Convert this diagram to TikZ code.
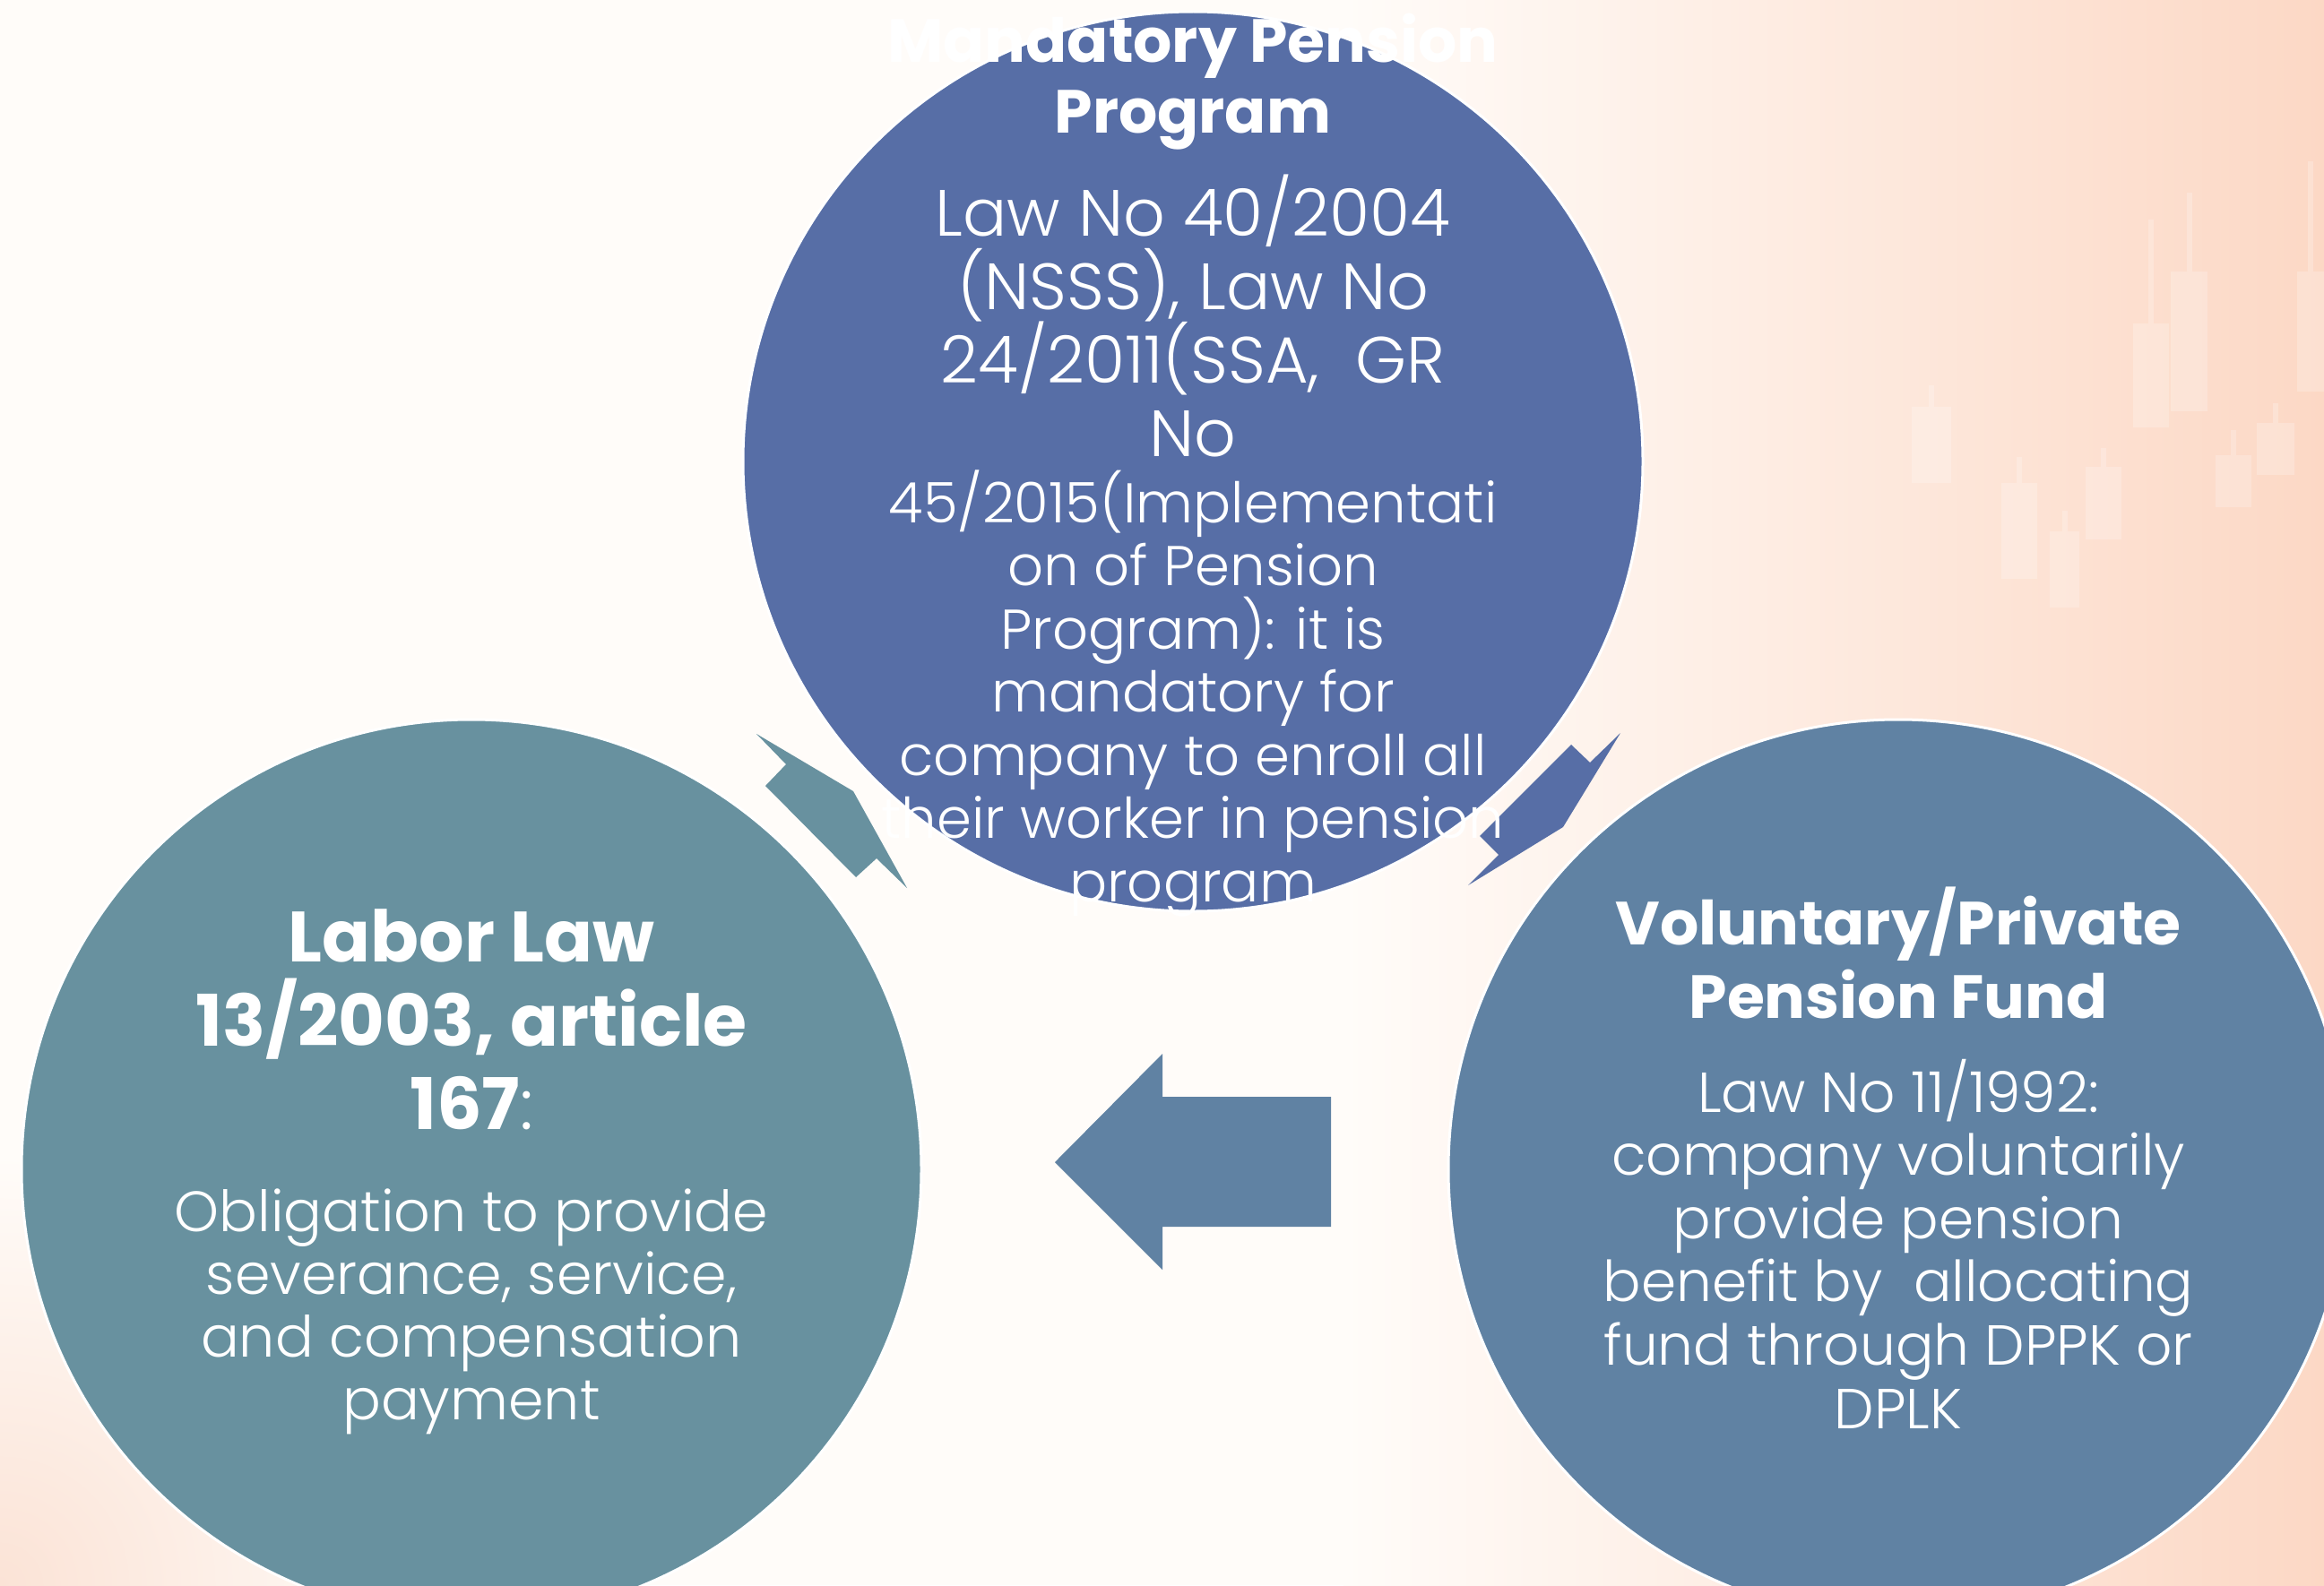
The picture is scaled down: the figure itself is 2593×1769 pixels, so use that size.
\documentclass[tikz,border=0pt]{standalone}
\usepackage{fontspec}
\setmainfont{Poppins}
\newfontfamily\lightfont{Poppins Light}
\definecolor{bgL}{HTML}{FFFCF9}
\definecolor{bgR}{HTML}{FCD8C5}
\definecolor{peach}{HTML}{FBE3D6}
\definecolor{topc}{HTML}{576EA6}
\definecolor{leftc}{HTML}{68919F}
\definecolor{rightc}{HTML}{6082A3}
\tikzset{
  disc/.style={circle, minimum size=1004pt, inner sep=0pt, draw=white, line width=3pt},
  candle/.style={fill=white, fill opacity=0.22},
  ttl/.style={text=white, anchor=base, inner sep=0pt, font=\bfseries\fontsize{#1}{#1}\selectfont},
  bdy/.style={text=white, anchor=base, inner sep=0pt, font=\lightfont\fontsize{#1}{#1}\selectfont},
}
\begin{document}
\begin{tikzpicture}[x=1pt,y=-1pt]
% background
\useasboundingbox (0,0) rectangle (2593,1769);
\fill[bgL] (0,0) rectangle (1500,1769);
\fill[left color=bgL, right color=bgR] (1499,0) rectangle (2593,1769);
\shade[inner color=peach, outer color=bgL] (0,1769) circle (480);
% faint candlesticks
\foreach \xa/\xb/\ya/\yb/\w in {2380/2420/361/477/245, 2422/2463/303/459/215, 2563/2593/303/437/180,
  2472/2512/508/566/480, 2518/2560/472/530/450, 2133/2177/454/539/430, 2233/2273/539/646/510,
  2327/2367/521/602/500, 2287/2320/593/678/570}
{
  \fill[candle] (\xa,\ya) rectangle (\xb,\yb);
  \fill[candle] ({(\xa+\xb)/2-3},\w) rectangle ({(\xa+\xb)/2+3},\ya);
}
% circles
\node[disc, fill=topc] (top) at (1331,515) {};
\node[disc, fill=leftc] (left) at (526,1305) {};
\node[disc, fill=rightc] (right) at (2118,1305) {};
% arrows
\fill[leftc] (844,819) -- (952,883) -- (1012,991) -- (978,958) -- (955,979) -- (854,877) -- (877,853) -- cycle;
\fill[topc] (1808,818) -- (1744,923) -- (1638,988) -- (1672,954) -- (1651,933) -- (1753,831) -- (1774,851) -- cycle;
\fill[rightc] (1177,1297) -- (1297,1176) -- (1297,1224) -- (1485,1224) -- (1485,1369) -- (1297,1369) -- (1297,1417) -- cycle;
% top circle text
\node[ttl=68] (tt1) at (1331,70) {Mandatory Pension};
\node[ttl=68] (tt2) at (1331,148) {Program};
\foreach \t [count=\i] in {Law No 40/2004, {(NSSS), Law No}, {24/2011(SSA,\ \ GR}, No}
  \node[bdy=73] (ta\i) at (1331,{263+(\i-1)*82}) {\t};
\foreach \t [count=\i] in {45/2015(Implementati, on of Pension, {Program): it is}, mandatory for,
  company to enroll all, their worker in pension, program}
  \node[bdy=62.5] (tb\i) at (1331,{583+(\i-1)*70.5}) {\t};
% left circle text
\node[ttl=79.5] (lt1) at (526,1073) {Labor Law};
\node[ttl=79.5] (lt2) at (526,1167) {13/2003, article};
\node[ttl=79.5] (lt3) at (526,1260) {167\mdseries\lightfont:};
\foreach \t [count=\i] in {Obligation to provide, {severance, service,}, and compensation, payment}
  \node[bdy=63.5] (lb\i) at (526,{1374+(\i-1)*70}) {\t};
% right circle text
\node[ttl=68] (rt1) at (2118,1054) {Voluntary/Private};
\node[ttl=68] (rt2) at (2118,1136) {Pension Fund};
\foreach \t [count=\i] in {Law No 11/1992:, company voluntarily, provide pension, {benefit by\ \ allocating},
  fund through DPPK or, DPLK}
  \node[bdy=63] (rb\i) at (2118,{1241+(\i-1)*70.6}) {\t};
\end{tikzpicture}
\end{document}
